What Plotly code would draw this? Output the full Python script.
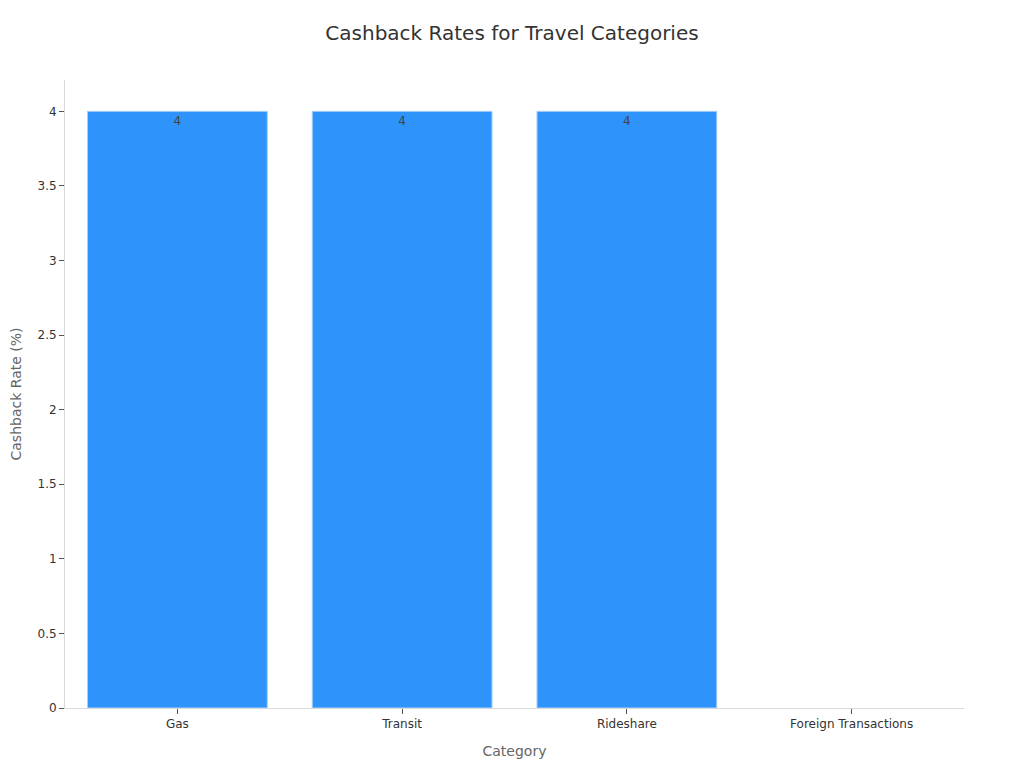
import plotly.graph_objects as go

categories = ["Gas", "Transit", "Rideshare", "Foreign Transactions"]
cashback_rates = [4, 4, 4, 0]
y_ticks = [0, 0.5, 1, 1.5, 2, 2.5, 3, 3.5, 4]
y_tick_labels = ["0", "0.5", "1", "1.5", "2", "2.5", "3", "3.5", "4"]

fig = go.Figure(
    go.Bar(
        x=categories,
        y=cashback_rates,
        text=[str(v) if v else "" for v in cashback_rates],
        textposition="inside",
        insidetextanchor="end",
        textfont=dict(family="DejaVu Sans", size=12, color="#444444"),
        marker=dict(
            color="#2E93FA",
            line=dict(color="#a8d0fb", width=[1 if v else 0 for v in cashback_rates]),
        ),
        width=0.8,
    )
)

fig.update_layout(
    width=1008,
    height=752,
    paper_bgcolor="white",
    plot_bgcolor="white",
    font=dict(family="DejaVu Sans", color="#333333"),
    title=dict(
        text="Cashback Rates for Travel Categories",
        x=0.5,
        xanchor="center",
        y=1 - 25 / 752,
        yanchor="middle",
        font=dict(size=20, color="#333333"),
    ),
    margin=dict(l=57, r=52, t=72, b=52),
    showlegend=False,
    bargap=0.2,
    xaxis=dict(
        title=dict(text="Category", font=dict(size=14, color="#666666"), standoff=15),
        automargin=False,
        showline=True,
        linecolor="#d9d9d9",
        linewidth=1,
        ticks="outside",
        ticklen=5,
        tickcolor="#555555",
        tickfont=dict(size=12, color="#333333"),
        showgrid=False,
    ),
    yaxis=dict(
        title=dict(text="Cashback Rate (%)", font=dict(size=14, color="#666666"), standoff=21),
        automargin=False,
        range=[0, 4.21],
        tickvals=y_ticks,
        ticktext=y_tick_labels,
        showline=True,
        linecolor="#d9d9d9",
        linewidth=1,
        ticks="outside",
        ticklen=5,
        tickcolor="#555555",
        tickfont=dict(size=12, color="#333333"),
        showgrid=False,
        zeroline=False,
    ),
)

fig.write_html("out.html")
